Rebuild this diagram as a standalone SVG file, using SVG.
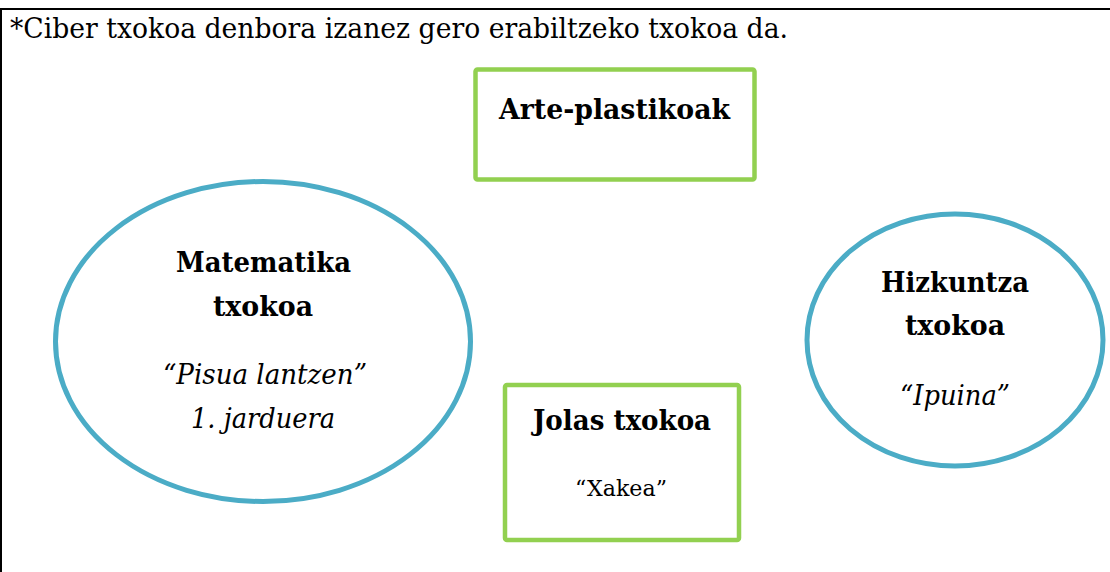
<svg xmlns="http://www.w3.org/2000/svg" width="1110" height="572" viewBox="0 0 1110 572">
<style>
.t{font-family:"DejaVu Serif","Liberation Serif",serif;fill:#000}
.b{font-weight:bold;font-size:28px}
.i{font-style:italic;font-size:28px}
.r{font-size:23px}
.ell{fill:#fff;stroke:#4BACC6;stroke-width:5}
.box{fill:#fff;stroke:#92D050;stroke-width:4.5}
</style>
<rect width="1110" height="572" fill="#fff"/>
<path d="M1 572 V9 H1110" fill="none" stroke="#000" stroke-width="2"/>
<text class="t" x="10" y="38" font-size="28" textLength="778" lengthAdjust="spacingAndGlyphs">*Ciber txokoa denbora izanez gero erabiltzeko txokoa da.</text>
<g id="connectors"></g>
<g id="arte">
<rect class="box" x="475.5" y="69.5" width="279" height="110" rx="2"/>
<text class="t b" x="499" y="119" textLength="231" lengthAdjust="spacingAndGlyphs">Arte-plastikoak</text>
</g>
<g id="matematika">
<ellipse class="ell" cx="263" cy="341.5" rx="207.5" ry="160"/>
<text class="t b" x="176" y="272" textLength="175" lengthAdjust="spacingAndGlyphs">Matematika</text>
<text class="t b" x="213" y="316" textLength="100" lengthAdjust="spacingAndGlyphs">txokoa</text>
<text class="t i" x="163" y="384" textLength="204" lengthAdjust="spacingAndGlyphs">“Pisua lantzen”</text>
<text class="t i" x="191" y="428" textLength="144" lengthAdjust="spacingAndGlyphs">1. jarduera</text>
</g>
<g id="jolas">
<rect class="box" x="505" y="385" width="234" height="155" rx="2"/>
<text class="t b" x="533" y="430" textLength="178" lengthAdjust="spacingAndGlyphs">Jolas txokoa</text>
<text class="t r" x="575" y="496" textLength="92" lengthAdjust="spacingAndGlyphs">“Xakea”</text>
</g>
<g id="hizkuntza">
<ellipse class="ell" cx="955" cy="340" rx="148" ry="126"/>
<text class="t b" x="881" y="292" textLength="148" lengthAdjust="spacingAndGlyphs">Hizkuntza</text>
<text class="t b" x="905" y="335" textLength="100" lengthAdjust="spacingAndGlyphs">txokoa</text>
<text class="t i" x="900" y="405" textLength="110" lengthAdjust="spacingAndGlyphs">“Ipuina”</text>
</g>
</svg>
